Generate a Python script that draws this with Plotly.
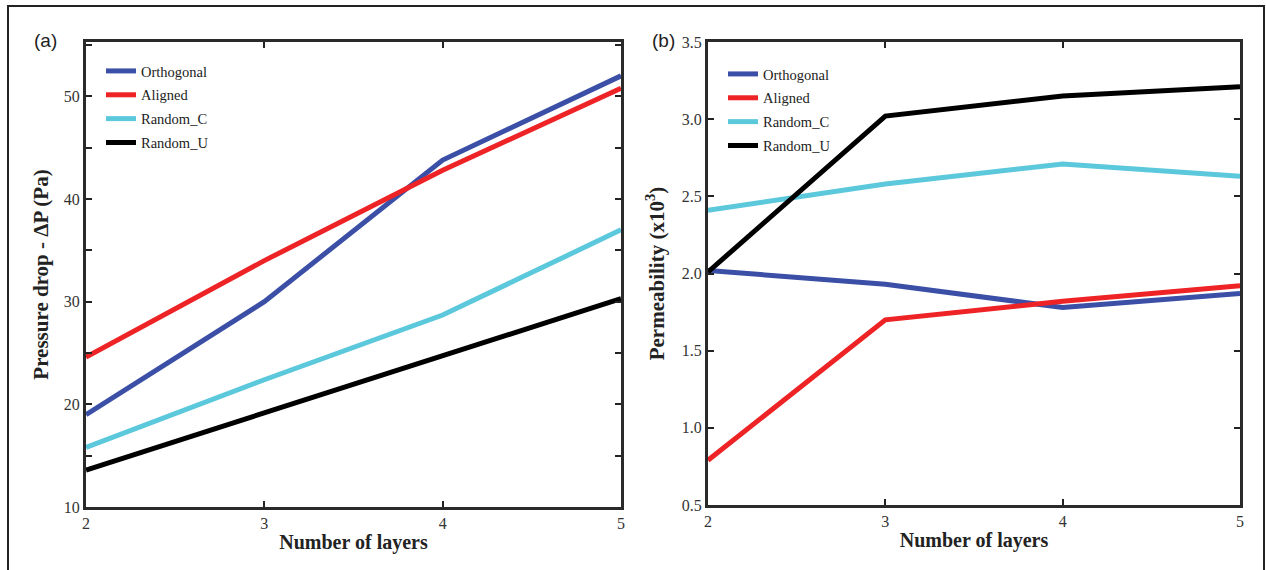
import plotly.graph_objects as go

layers = [2, 3, 4, 5]
series_names = ["Orthogonal", "Aligned", "Random_C", "Random_U"]
colors = ["#3b4fa6", "#ee2326", "#5cc8dc", "#000000"]

pressure_orthogonal = [19.0, 30.0, 43.8, 52.0]
pressure_aligned = [24.6, 34.0, 42.8, 50.8]
pressure_random_c = [15.8, 22.4, 28.7, 37.0]
pressure_random_u = [13.6, 19.2, 24.7, 30.3]

perm_orthogonal = [2.02, 1.93, 1.78, 1.87]
perm_aligned = [0.79, 1.70, 1.82, 1.92]
perm_random_c = [2.41, 2.58, 2.71, 2.63]
perm_random_u = [2.01, 3.02, 3.15, 3.21]

W, H = 1266, 570
def px(x): return x / W
def py(y): return 1 - y / H

fig = go.Figure()

pressure = [pressure_orthogonal, pressure_aligned, pressure_random_c, pressure_random_u]
perm = [perm_orthogonal, perm_aligned, perm_random_c, perm_random_u]

for i, (name, vals) in enumerate(zip(series_names, pressure)):
    fig.add_trace(go.Scatter(x=layers, y=vals, mode="lines", name=name,
                             line=dict(color=colors[i], width=5),
                             xaxis="x", yaxis="y", legend="legend",
                             legendgroup="a" + name))
for i, (name, vals) in enumerate(zip(series_names, perm)):
    fig.add_trace(go.Scatter(x=layers, y=vals, mode="lines", name=name,
                             line=dict(color=colors[i], width=5),
                             xaxis="x2", yaxis="y2", legend="legend2",
                             legendgroup="b" + name))

tickfont = dict(family="Liberation Serif", size=16, color="#333")
xtitlefont = dict(family="Liberation Serif", size=20, color="#222")
ytitlefont = dict(family="Liberation Serif", size=21, color="#222")

common_x = dict(range=[2, 5], tickvals=layers, ticks="inside", ticklen=6, tickwidth=2,
                tickcolor="#222", showline=True, linewidth=3, linecolor="#2a2a2a",
                mirror="ticks", showgrid=False, zeroline=False, tickfont=tickfont,
                automargin=False)
common_y = dict(ticks="inside", ticklen=6, tickwidth=2, tickcolor="#222",
                showline=True, linewidth=3, linecolor="#2a2a2a", mirror="ticks",
                showgrid=False, zeroline=False, tickfont=tickfont, automargin=False)

legend_common = dict(font=dict(family="Liberation Serif", size=14.5, color="#222"),
                     bgcolor="rgba(0,0,0,0)", itemwidth=30, tracegroupgap=2,
                     xanchor="left", yanchor="top")

fig.update_layout(
    width=W, height=H,
    autosize=False,
    margin=dict(l=0, r=0, t=0, b=0, pad=0, autoexpand=False),
    paper_bgcolor="white", plot_bgcolor="white",
    xaxis=dict(domain=[px(86), px(621)], anchor="y",
               title=dict(text="<b>Number of layers</b>", font=xtitlefont, standoff=4),
               **common_x),
    yaxis=dict(domain=[py(507), py(42)], anchor="x", range=[10, 55.3],
               tickvals=[10, 20, 30, 40, 50],
               minor=dict(dtick=5, tick0=0, ticks="inside", ticklen=6, tickwidth=2, tickcolor="#222"),
               title=dict(text="<b>Pressure drop - ΔP (Pa)</b>", font=ytitlefont, standoff=10),
               **common_y),
    xaxis2=dict(domain=[px(708), px(1240)], anchor="y2",
                title=dict(text="<b>Number of layers</b>", font=xtitlefont, standoff=4),
                **common_x),
    yaxis2=dict(domain=[py(505), py(42)], anchor="x2", range=[0.5, 3.5],
                tickvals=[0.5, 1.0, 1.5, 2.0, 2.5, 3.0, 3.5],
                ticktext=["0.5", "1.0", "1.5", "2.0", "2.5", "3.0", "3.5"],
                title=dict(text="<b>Permeability (x10<sup>3</sup>)</b>", font=ytitlefont, standoff=12),
                **common_y),
    legend=dict(x=px(101), y=py(55), **legend_common),
    legend2=dict(x=px(723), y=py(58), **legend_common),
    showlegend=True,
)

fig.add_shape(type="rect", xref="paper", yref="paper",
              x0=px(8), x1=px(1264), y0=-0.05, y1=py(6),
              line=dict(color="#222", width=2), fillcolor="rgba(0,0,0,0)", layer="below")

fig.add_annotation(text="(a)", xref="paper", yref="paper", x=px(32), y=py(40),
                   xanchor="left", yanchor="middle", showarrow=False,
                   font=dict(family="Liberation Sans", size=19, color="#222"))
fig.add_annotation(text="(b)", xref="paper", yref="paper", x=px(650), y=py(40),
                   xanchor="left", yanchor="middle", showarrow=False,
                   font=dict(family="Liberation Sans", size=19, color="#222"))

fig.write_html("out.html", config={"displayModeBar": False},
               post_script="document.body.style.margin='0';document.body.style.overflow='hidden';")
